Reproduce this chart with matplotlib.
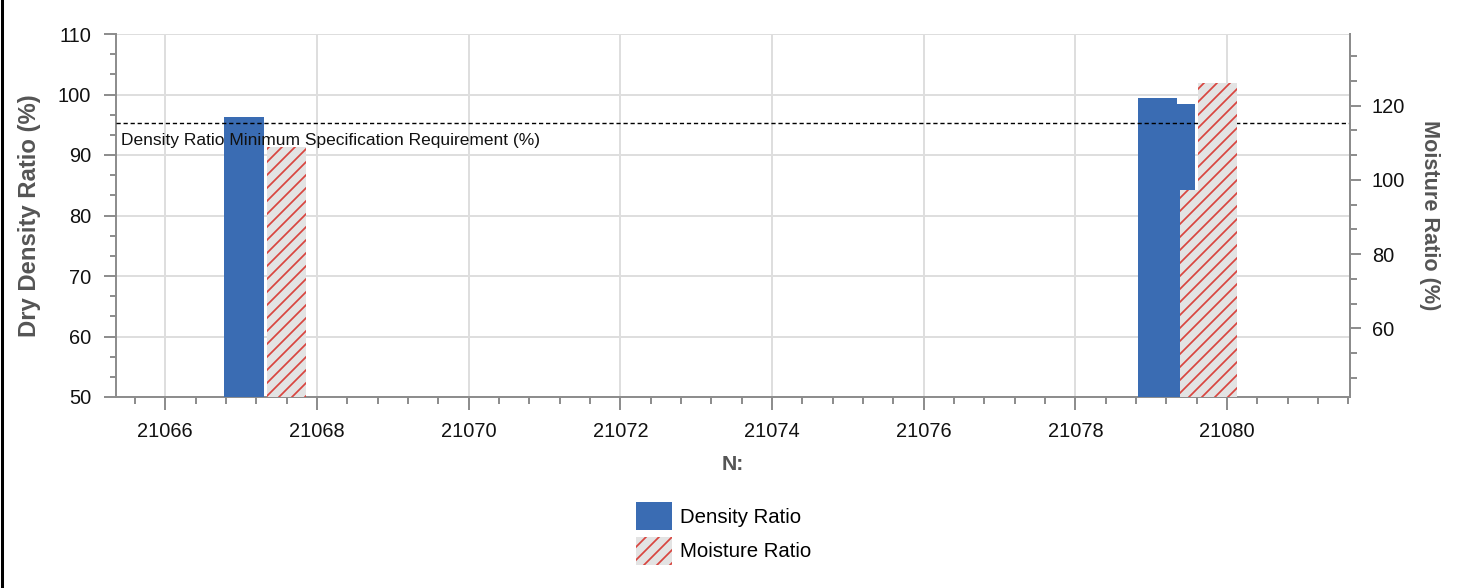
import numpy as np
import matplotlib.pyplot as plt
from matplotlib.ticker import MultipleLocator
from matplotlib.patches import Patch
from matplotlib.lines import Line2D

plt.rcParams['font.family'] = ['Liberation Sans', 'DejaVu Sans']
plt.rcParams['hatch.linewidth'] = 1.6

# station numbers (N) of the tests
stations = [21067.32, 21079.36, 21079.59]
density_ratio = [96.3, 99.5, 98.5]      # left axis, %
moisture_ratio = [108.9, 97.3, 126.2]   # right axis, %
spec_min = 95.3
spec_label = 'Density Ratio Minimum Specification Requirement (%)'

DPI = 78
W, H = 1457, 588
fig = plt.figure(figsize=(W / DPI, H / DPI), dpi=DPI)
ax = fig.add_axes([116 / W, 1 - 397 / H, 1234 / W, 363 / H])
ax2 = ax.twinx()

grey = '#8c8c8c'
blue = '#3a6cb3'
bw = 0.52
x = np.array(stations)

# earlier density bars sit on top of later ones, as in the original
ax.bar(x[::-1] - 0.28, density_ratio[::-1], width=bw, bottom=0, color=blue,
       linewidth=0, zorder=3)
ax2.bar(x + 0.28, moisture_ratio, width=bw, bottom=0, color='#e3e3e3',
        edgecolor='#d9453f', linewidth=0, hatch='//', zorder=3)

ax.set_xlim(21065.35, 21081.62)
ax.set_ylim(50, 110)
ax2.set_ylim(41.5, 139.3)

ax.xaxis.set_major_locator(MultipleLocator(2))
ax.xaxis.set_minor_locator(MultipleLocator(0.4))
ax.yaxis.set_major_locator(MultipleLocator(10))
ax.yaxis.set_minor_locator(MultipleLocator(10 / 3))
ax2.yaxis.set_major_locator(MultipleLocator(20))
ax2.yaxis.set_minor_locator(MultipleLocator(20 / 3))
ax.ticklabel_format(axis='x', useOffset=False, style='plain')

ax.grid(True, which='major', color='#dedede', linewidth=1.8, zorder=0)
ax.set_axisbelow(True)

for a in (ax, ax2):
    for s in a.spines.values():
        s.set_color(grey)
        s.set_linewidth(1.8)
    a.spines['top'].set_visible(False)
ax2.spines['left'].set_visible(False)
ax2.spines['bottom'].set_visible(False)

ax.tick_params(axis='both', which='major', colors=grey, labelcolor='#111111',
               labelsize=18.5, width=1.8, length=11)
ax.tick_params(axis='both', which='minor', colors=grey, width=1.8, length=6)
ax.tick_params(axis='x', which='major', length=12, pad=11)
ax.tick_params(axis='y', which='major', pad=12)
ax2.tick_params(axis='y', which='major', colors=grey, labelcolor='#111111',
                labelsize=18.5, width=1.8, length=10, pad=10)
ax2.tick_params(axis='y', which='minor', colors=grey, width=1.8, length=6)

# minimum spec line and its label
ax.axhline(spec_min, color='black', linewidth=1.3, linestyle=(0, (3, 2)), zorder=5)
ax.text(0.004, spec_min - 1.6, spec_label, transform=ax.get_yaxis_transform(),
        ha='left', va='top', fontsize=16.1, color='#111111', zorder=6)

ax.set_ylabel('Dry Density Ratio (%)', fontsize=22, fontweight='bold', color='#555555')
ax.yaxis.label.set_va('center')
ax.yaxis.set_label_coords(-0.0697, 0.5)
ax2.set_ylabel('Moisture Ratio (%)', fontsize=20, fontweight='bold', color='#555555',
               rotation=270, va='center')
ax2.yaxis.set_label_coords(1.0648, 0.5)
ax.set_xlabel('N:', fontsize=19.5, fontweight='bold', color='#555555')
ax.xaxis.set_label_coords(0.5, -0.187)
ax.xaxis.label.set_va('center')

handles = [Patch(facecolor=blue, edgecolor=blue, linewidth=0),
           Patch(facecolor='#e3e3e3', edgecolor='#d9453f', linewidth=0, hatch='//')]
fs = 18.8
fig.legend(handles, ['Density Ratio', 'Moisture Ratio'], loc='upper left',
           bbox_to_anchor=(636 / W, 1 - 502 / H), frameon=False, fontsize=fs,
           handlelength=1.76, handleheight=1.73, handletextpad=0.4,
           labelspacing=0.34, borderpad=0, borderaxespad=0)

# black frame line on the left edge of the picture
fig.add_artist(Line2D([1.5 / W, 1.5 / W], [0, 1], color='black', linewidth=2.8,
                      transform=fig.transFigure))

fig.savefig('out.png', dpi=DPI)
